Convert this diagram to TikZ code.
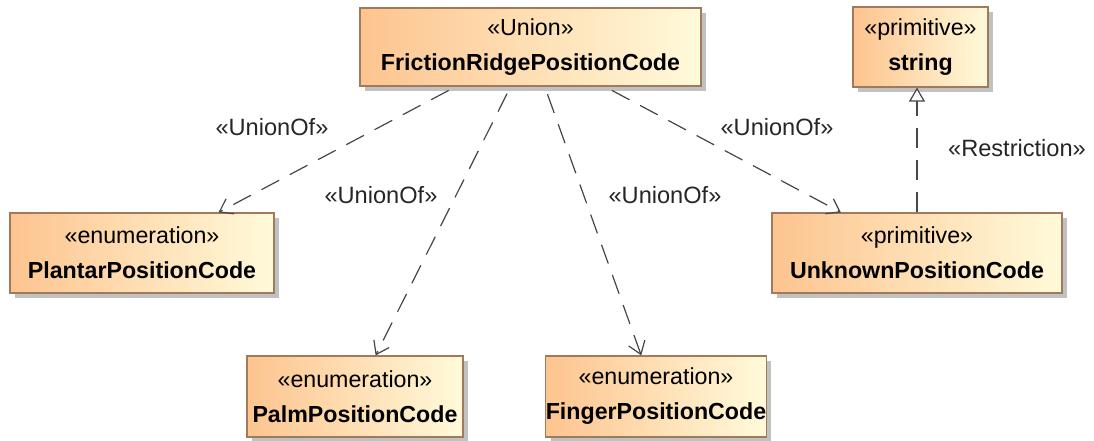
\documentclass[tikz,border=0pt]{standalone}
\usepackage{fontspec}
\setmainfont{Liberation Sans}
\usetikzlibrary{arrows.meta,shadows,calc}
\definecolor{boxleft}{RGB}{253,196,143}
\definecolor{boxright}{RGB}{255,250,218}
\definecolor{boxborder}{RGB}{160,122,90}
\definecolor{linecol}{RGB}{70,70,70}
\begin{document}
\begin{tikzpicture}[x=0.5pt,y=-0.5pt,
  umlbox/.style={draw=boxborder, line width=0.6pt, left color=boxleft, right color=boxright,
    shading angle=90, align=center, inner sep=0pt,
    font=\fontsize{11.6}{17.5}\selectfont,
    drop shadow={shadow xshift=2.5pt, shadow yshift=-2.5pt, fill=black!40, opacity=0.6}},
  union/.style={draw=linecol, line width=0.6pt, dash pattern=on 10pt off 6pt,
    -{Straight Barb[length=6pt,width=8.5pt,line width=0.6pt]}, shorten <=4pt},
  restr/.style={draw=linecol, line width=0.6pt, dash pattern=on 10pt off 6pt,
    -{Triangle[open,length=7pt,width=8pt,line width=0.6pt,fill=white]}},
  lbl/.style={font=\fontsize{11.8}{14}\selectfont, text=black!85, inner sep=0pt}]
\useasboundingbox (0,0) rectangle (1094,440);
\fill[white] (0,0) rectangle (1094,440);

\node[umlbox, minimum width=170.5pt, minimum height=39pt] (fr) at (530.5,47)
  {«Union»\\\textbf{FrictionRidgePositionCode}};
\node[umlbox, minimum width=67.5pt, minimum height=40pt] (str) at (920.5,47)
  {«primitive»\\\textbf{string}};
\node[umlbox, minimum width=132pt, minimum height=40pt] (pl) at (142,253)
  {«enumeration»\\\textbf{PlantarPositionCode}};
\node[umlbox, minimum width=108pt, minimum height=40.5pt] (palm) at (355,396.5)
  {«enumeration»\\\textbf{PalmPositionCode}};
\node[umlbox, minimum width=108pt, minimum height=40.5pt] (fin) at (656,396.5)
  {«enumeration»\\\textbf{FingerPositionCode}};
\node[umlbox, minimum width=145pt, minimum height=40pt] (unk) at (917,253)
  {«primitive»\\\textbf{UnknownPositionCode}};

\draw[union] (fr) -- (pl);
\draw[union] (fr) -- (palm);
\draw[union] (fr) -- (fin);
\draw[union] (fr) -- (unk);
\draw[restr] (unk.north) -- (unk.north |- str.south);

\node[lbl] (l1) at (272,127) {«UnionOf»};
\node[lbl] (l2) at (381,195) {«UnionOf»};
\node[lbl] (l3) at (665,195) {«UnionOf»};
\node[lbl] (l4) at (777,127) {«UnionOf»};
\node[lbl] (l5) at (1017,148) {«Restriction»};
\end{tikzpicture}
\end{document}
